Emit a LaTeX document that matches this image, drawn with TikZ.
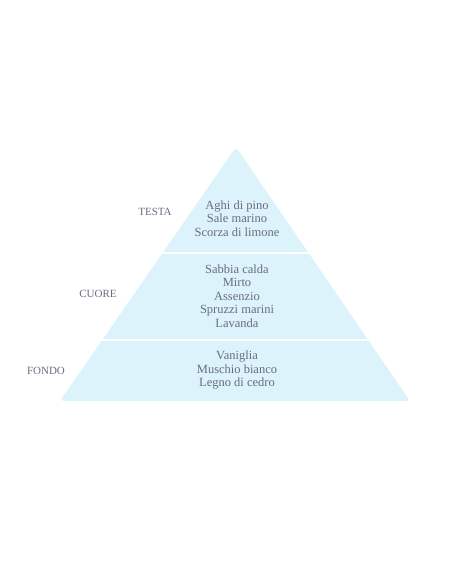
\documentclass[tikz,border=0pt]{standalone}
\usepackage{fontspec}
\setmainfont{Liberation Serif}
\definecolor{layerblue}{HTML}{DDF3FC}
\definecolor{notegrey}{HTML}{686D80}
\begin{document}
\begin{tikzpicture}[
        x=1pt, y=-1pt,
        notes/.style={align=center, text=notegrey, font=\fontsize{12.5}{13.5}\selectfont, inner sep=0pt},
        level/.style={text=notegrey, font=\fontsize{11}{12}\selectfont, inner sep=0pt},
        gap/.style={draw=white, line width=2.5pt},
    ]
    \useasboundingbox (0,0) rectangle (452,584);
    % pyramid
    \coordinate (apex) at (236,147);
    \coordinate (bl) at (60,401);
    \coordinate (br) at (410,401);
    \fill[layerblue, rounded corners=4pt] (bl) -- (apex) -- (br) -- cycle;
    % white gaps between layers
    \coordinate (g1l) at (140,253);
    \coordinate (g1r) at (330,253);
    \coordinate (g2l) at (80,340);
    \coordinate (g2r) at (390,340);
    \draw[gap] (g1l) -- (g1r);
    \draw[gap] (g2l) -- (g2r);
    % notes
    \node[notes](top) at (237,218.5){Aghi di pino\\Sale marino\\Scorza di limone};
    \node[notes](mid) at (237,296){Sabbia calda\\Mirto\\Assenzio\\Spruzzi marini\\Lavanda};
    \node[notes](base) at (237,370.5){Vaniglia\\Muschio bianco\\Legno di cedro};
    % level names
    \node[level](testa) at (155,212){TESTA};
    \node[level](cuore) at (98,294){CUORE};
    \node[level](fondo) at (46,371){FONDO};
\end{tikzpicture}
\end{document}
